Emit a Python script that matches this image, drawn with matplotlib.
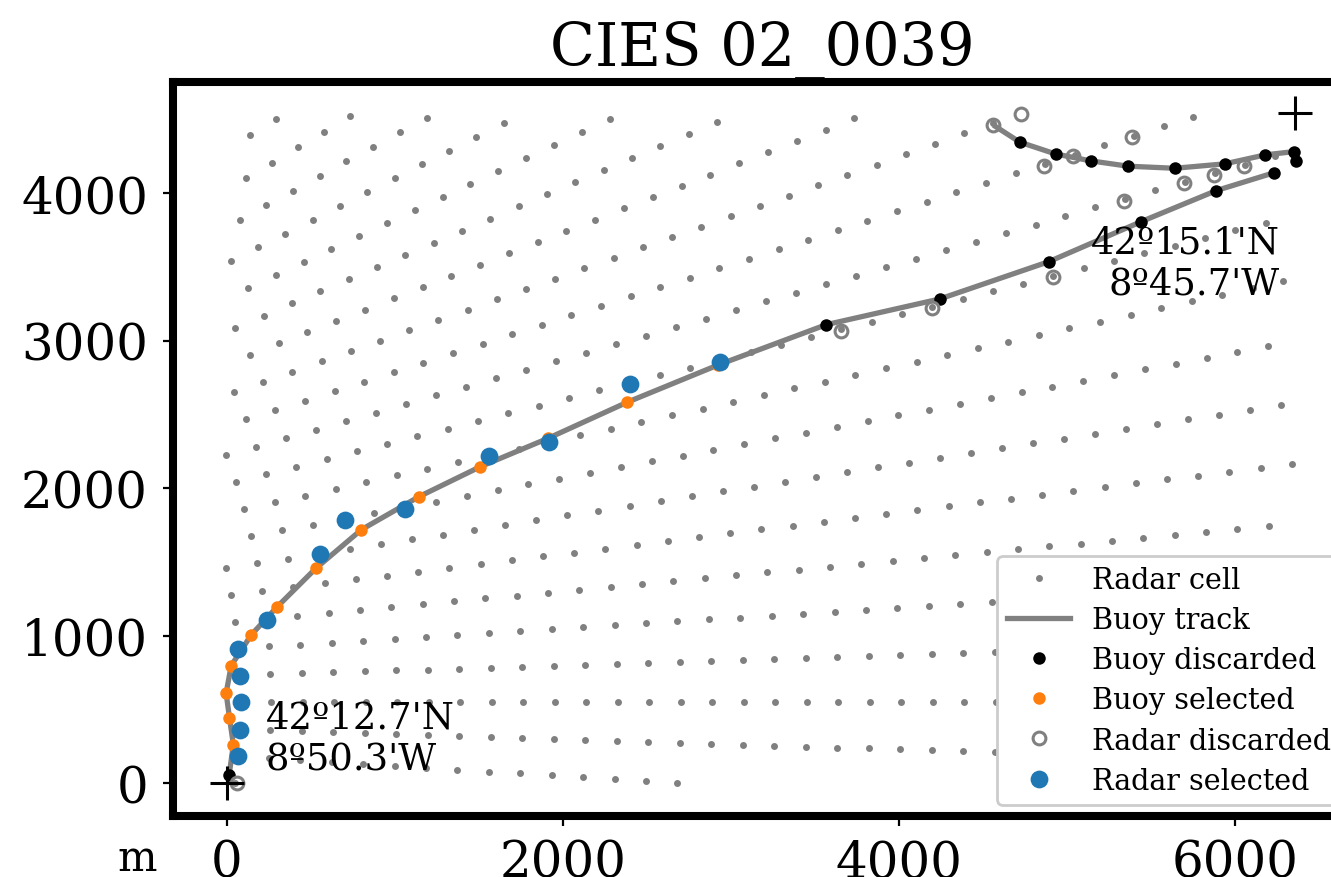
import numpy as np
import matplotlib.pyplot as plt

plt.rcParams['font.family'] = ['DejaVu Serif']
plt.rcParams['font.size'] = 18

# radar geometry (metres, relative to lower-left corner of the box)
radar_site = (-5155.0, 549.0)
beam_angles = [-6, -4, -2, 0, 2, 4, 6, 8, 10, 12, 14, 16, 18, 20,
               22, 24, 26, 28, 30, 32, 34, 36, 38]
range_gates = [5230.5, 5418, 5605.5, 5793, 5980.5, 6168, 6355.5, 6543,
               6730.5, 6918, 7105.5, 7293, 7480.5, 7668, 7855.5, 8043,
               8230.5, 8418, 8605.5, 8793, 8980.5, 9168, 9355.5, 9543,
               9730.5, 9918, 10105.5, 10293, 10480.5, 10668, 10855.5,
               11043, 11230.5, 11418, 11605.5, 11793, 11980.5, 12168]

# box corners
corner_x = [0, 6357]
corner_y = [0, 4542]
corner_labels = ["42º12.7'N\n8º50.3'W", "42º15.1'N\n8º45.7'W"]

# buoy track (two pieces)
track_x = [14, 39, 16, -4, 26, 145, 297, 530, 801, 1144, 1507, 1913, 2383,
           2925, 3568, 4243, 4892, 5443, 5889, 6230, np.nan,
           6365, 6351, 6181, 5939, 5641, 5364, 5142, 4932, 4719, 4575]
track_y = [57, 262, 443, 610, 797, 1005, 1193, 1457, 1719, 1943, 2145, 2339,
           2583, 2836, 3109, 3283, 3536, 3808, 4018, 4138, np.nan,
           4221, 4282, 4260, 4199, 4169, 4183, 4219, 4266, 4346, 4452]

buoy_sel_x = [39, 16, -4, 26, 145, 297, 530, 801, 1144, 1507, 1913, 2383, 2925]
buoy_sel_y = [262, 443, 610, 797, 1005, 1193, 1457, 1719, 1943, 2145, 2339, 2583, 2836]

buoy_disc_x = [14, 3568, 4243, 4892, 5443, 5889, 6230, 6365, 6351, 6181,
               5939, 5641, 5364, 5142, 4932, 4719]
buoy_disc_y = [57, 3109, 3283, 3536, 3808, 4018, 4138, 4221, 4282, 4260,
               4199, 4169, 4183, 4219, 4266, 4346]

radar_sel_x = [69, 79, 85, 79, 69, 238, 555, 704, 1061, 1560, 1919, 2399, 2934]
radar_sel_y = [183, 363, 549, 730, 911, 1109, 1555, 1787, 1862, 2217, 2312, 2707, 2858]

radar_disc_x = [59, 3653, 4197, 4914, 5338, 5695, 5875, 6052, 5387, 5036,
                4862, 4729, 4561]
radar_disc_y = [2, 3069, 3220, 3435, 3950, 4070, 4124, 4183, 4380, 4255,
                4187, 4538, 4463]

# radar cells inside the box
ang = np.deg2rad(np.array(beam_angles))[:, None]
rr = np.array(range_gates)[None, :]
cx = (radar_site[0] + rr * np.cos(ang)).ravel()
cy = (radar_site[1] + rr * np.sin(ang)).ravel()
keep = (cx >= corner_x[0] - 8) & (cx <= corner_x[1]) & \
       (cy >= corner_y[0] - 5) & (cy <= corner_y[1])
cx, cy = cx[keep], cy[keep]

fig = plt.figure(figsize=(6.655, 4.39), dpi=200)
ax = fig.add_axes([0.130, 0.0695, 0.8858, 0.836])

ax.plot(cx, cy, 'o', color='gray', ms=2.5, mew=0, ls='none', label='Radar cell')
ax.plot(track_x, track_y, '-', color='gray', lw=1.9, label='Buoy track')
ax.plot(buoy_disc_x, buoy_disc_y, 'o', color='black', ms=4.5, mew=0, ls='none',
        label='Buoy discarded')
ax.plot(buoy_sel_x, buoy_sel_y, 'o', color='tab:orange', ms=4.5, mew=0, ls='none',
        label='Buoy selected')
ax.plot(radar_disc_x, radar_disc_y, 'o', mfc='none', mec='gray', ms=4.6, mew=1.1,
        ls='none', label='Radar discarded')
ax.plot(radar_sel_x, radar_sel_y, 'o', color='tab:blue', ms=6.4, mew=0, ls='none',
        label='Radar selected')

ax.plot(corner_x, corner_y, '+', color='black', ms=12.5, mew=1.1, ls='none')
ax.text(232, 40, corner_labels[0], fontsize=13.3, ha='left', va='bottom')
ax.text(6266, 3790, corner_labels[1], fontsize=13.3, ha='right', va='top')

ax.set_xlim(-320, 6696)
ax.set_ylim(-222, 4754)
ax.set_xticks([0, 2000, 4000, 6000])
ax.set_yticks([0, 1000, 2000, 3000, 4000])
ax.tick_params(axis='x', pad=4.5)
ax.tick_params(axis='y', pad=5.5)
for s in ax.spines.values():
    s.set_linewidth(2.9)

ax.set_title('CIES 02_0039', fontsize=21.2)
ax.text(-0.0305, -0.0736, 'm', transform=ax.transAxes, fontsize=15,
        ha='center', va='baseline')

ax.legend(loc='lower right', fontsize=10.3, handlelength=2.2,
          handletextpad=0.75, labelspacing=0.42, borderpad=0.35,
          borderaxespad=0.4, framealpha=1)

fig.savefig('out.png', dpi=200)
